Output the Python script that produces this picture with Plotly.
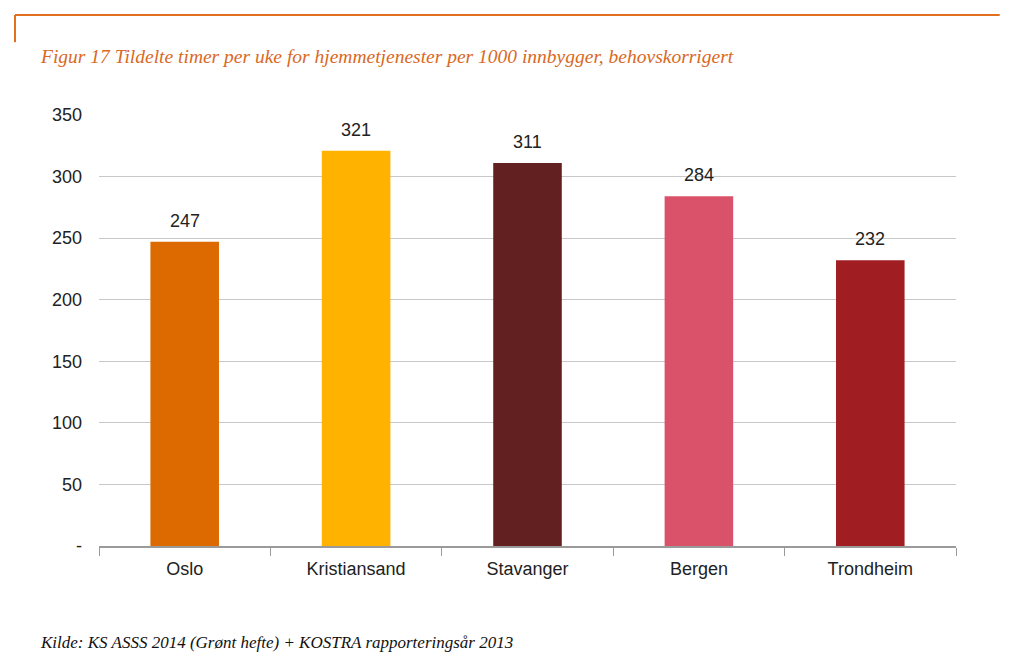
import plotly.graph_objects as go

categories = ["Oslo", "Kristiansand", "Stavanger", "Bergen", "Trondheim"]
values = [247, 321, 311, 284, 232]
colors = ["#DD6A00", "#FFB300", "#632020", "#DA526A", "#A01E22"]
ytick_vals = [0, 50, 100, 150, 200, 250, 300, 350]
ytick_text = ["-", "50", "100", "150", "200", "250", "300", "350"]

FONT = "Liberation Sans Narrow, Arial Narrow, Liberation Sans, Arial, sans-serif"

fig = go.Figure(go.Bar(
    x=categories, y=values, marker_color=colors, marker_line_width=0,
))

value_labels = [
    dict(x=c, y=v, text=str(v), xref="x", yref="y", showarrow=False,
         yanchor="bottom", yshift=9,
         font=dict(family=FONT, size=18, color="#222222"))
    for c, v in zip(categories, values)
]

fig.update_layout(
    width=1015, height=659,
    margin=dict(l=91, r=67, t=107, b=121),
    paper_bgcolor="white", plot_bgcolor="white",
    bargap=0.6,
    showlegend=False,
    font=dict(family=FONT, size=18, color="#222222"),
    xaxis=dict(
        showgrid=False, showline=True, linecolor="#9a9a9a", linewidth=1.5,
        ticks="outside", tickson="boundaries", ticklen=8, tickcolor="#9a9a9a",
        ticklabelstandoff=6,
        tickfont=dict(family=FONT, size=18, color="#222222"),
    ),
    yaxis=dict(
        range=[0, 350], tickvals=ytick_vals, ticktext=ytick_text,
        showgrid=True, gridcolor="#c8c8c8", gridwidth=1,
        zeroline=False, showline=False, ticks="", ticklabelstandoff=16,
        tickfont=dict(family=FONT, size=18, color="#222222"),
    ),
    shapes=[
        dict(type="line", xref="paper", yref="paper", x0=-0.098, x1=1.051, y0=1.232, y1=1.232,
             line=dict(color="#E07020", width=2)),
        dict(type="line", xref="paper", yref="paper", x0=-0.098, x1=-0.098, y0=1.232, y1=1.169,
             line=dict(color="#E07020", width=2)),
    ],
    annotations=value_labels + [
        dict(text="Figur 17 Tildelte timer per uke for hjemmetjenester per 1000 innbygger, behovskorrigert",
             xref="paper", yref="paper", x=-0.0712, y=1.135, xanchor="left", yanchor="middle",
             showarrow=False,
             font=dict(family="Liberation Serif, Georgia, serif", size=19.5, color="#D9691F",
                       style="italic")),
        dict(text="Kilde: KS ASSS 2014 (Grønt hefte) + KOSTRA rapporteringsår 2013",
             xref="paper", yref="paper", x=-0.0712, y=-0.225, xanchor="left", yanchor="middle",
             showarrow=False,
             font=dict(family="Liberation Serif, Georgia, serif", size=17, color="#111111",
                       style="italic")),
    ],
)

fig.write_html("out.html")
